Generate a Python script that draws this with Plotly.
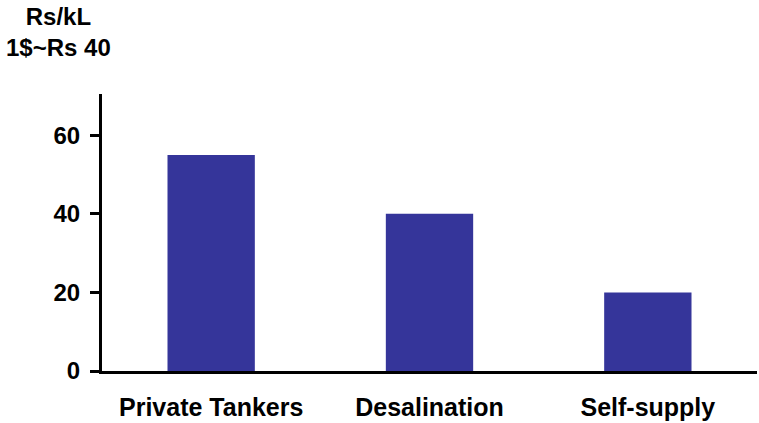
import plotly.graph_objects as go

categories = ["Private Tankers", "Desalination", "Self-supply"]
values = [55, 40, 20]
y_ticks = [0, 20, 40, 60]
unit_lines = ["Rs/kL", "1$~Rs 40"]

FONT = "Liberation Sans, Arial, sans-serif"

fig = go.Figure(go.Bar(
    x=categories, y=values, width=0.4,
    marker=dict(color="#35359A", line=dict(width=0)),
))

fig.update_layout(
    width=759, height=423,
    margin=dict(l=102, r=2, t=94, b=52),
    paper_bgcolor="white", plot_bgcolor="white",
    showlegend=False,
    font=dict(family=FONT, size=24, color="black"),
    xaxis=dict(
        range=[-0.5, 2.5], showline=True, linecolor="black", linewidth=3,
        ticks="", showgrid=False, zeroline=False,
        tickfont=dict(family=FONT, size=25, color="black", weight="bold"),
        ticklabelstandoff=12,
    ),
    yaxis=dict(
        range=[0, 70.5], showline=True, linecolor="black", linewidth=3,
        ticks="outside", ticklen=9, tickwidth=3, tickcolor="black",
        tickvals=y_ticks, showgrid=False, zeroline=False,
        tickfont=dict(family=FONT, size=24, color="black", weight="bold"),
        ticklabelstandoff=5,
    ),
    annotations=[dict(
        text="<br>".join(unit_lines), xref="paper", yref="paper",
        x=-0.066, y=1.0, yshift=93, xanchor="center", yanchor="top",
        showarrow=False, align="center",
        font=dict(family=FONT, size=24, color="black", weight="bold"),
    )],
)

fig.write_html("out.html")
